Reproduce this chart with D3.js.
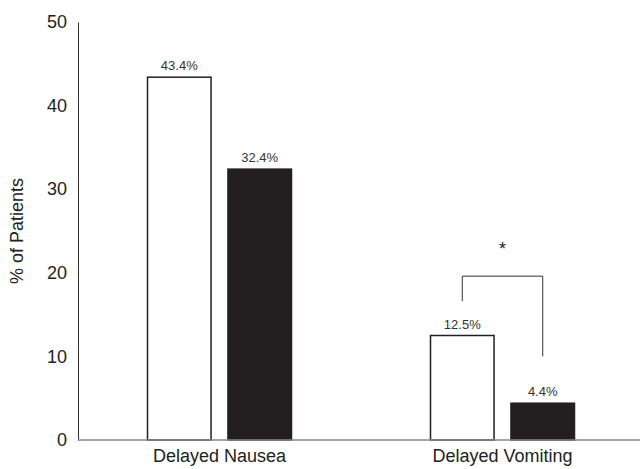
<!DOCTYPE html>
<html>
<head>
<meta charset="utf-8">
<script src="https://cdn.jsdelivr.net/npm/d3@7"></script>
<style>
  body { margin: 0; background: #fff; }
  svg { display: block; font-family: "Liberation Sans", Arial, sans-serif; }
</style>
</head>
<body>
<svg id="chart" width="640" height="469"></svg>
<script>
const categories = ['Delayed Nausea', 'Delayed Vomiting'];
const seriesNames = ['control', 'treatment'];
const controlValues = [43.4, 12.5];
const treatmentValues = [32.4, 4.4];
const yTicks = [0, 10, 20, 30, 40, 50];
// significance bracket on Delayed Vomiting: left leg end, top, right leg end
const bracketValues = [16.6, 19.6, 10.0];
const starValue = 23.3;

const width = 640;
const height = 469;
const margin = { left: 78, top: 22, bottom: 29 };

const svg = d3.select('#chart');

const y = d3.scaleLinear()
  .domain([0, 50])
  .range([height - margin.bottom, margin.top]);

const x0 = d3.scaleBand()
  .domain(categories)
  .range([margin.left, 644]);

const x1 = d3.scaleBand()
  .domain(seriesNames)
  .range([-72, 72])
  .paddingInner(0.21);

// y 轴
const yAxis = svg.append('g')
  .attr('transform', `translate(${margin.left},0)`)
  .call(d3.axisLeft(y).tickValues(yTicks).tickSize(0).tickPadding(11));
yAxis.select('.domain').attr('stroke', '#333').attr('stroke-width', 1);
yAxis.selectAll('text')
  .attr('font-size', 18)
  .attr('font-family', '"Liberation Sans", Arial, sans-serif')
  .attr('fill', '#222');

svg.append('text')
  .attr('transform', `translate(23,${(y(0) + y(50)) / 2}) rotate(-90)`)
  .attr('text-anchor', 'middle')
  .attr('font-size', 18)
  .attr('fill', '#222')
  .text('% of Patients');

// 柱图
const rows = categories.map((c, i) => ({
  name: c,
  values: [
    { key: 'control', value: controlValues[i] },
    { key: 'treatment', value: treatmentValues[i] }
  ]
}));

const group = svg.append('g').selectAll('g')
  .data(rows)
  .enter()
  .append('g')
  .attr('transform', d => `translate(${x0(d.name) + x0.bandwidth() / 2},0)`);

group.selectAll('rect')
  .data(d => d.values)
  .enter()
  .append('rect')
  .attr('x', d => x1(d.key))
  .attr('y', d => y(d.value))
  .attr('width', x1.bandwidth())
  .attr('height', d => y(0) - y(d.value))
  .attr('fill', d => d.key === 'control' ? '#fff' : '#231f20')
  .attr('stroke', '#231f20')
  .attr('stroke-width', 1.5);

group.selectAll('text.val')
  .data(d => d.values)
  .enter()
  .append('text')
  .attr('class', 'val')
  .attr('x', d => x1(d.key) + x1.bandwidth() / 2)
  .attr('y', d => y(d.value) - 7)
  .attr('text-anchor', 'middle')
  .attr('font-size', 13)
  .attr('fill', '#333')
  .text(d => d.value.toFixed(1) + '%');

// x 轴
const xAxis = svg.append('g')
  .attr('transform', `translate(0,${y(0)})`)
  .call(d3.axisBottom(x0).tickSize(0).tickPadding(9));
xAxis.select('.domain')
  .attr('d', `M${margin.left},0H${width}`)
  .attr('stroke', '#888')
  .attr('stroke-width', 1.5);
xAxis.selectAll('text')
  .attr('font-size', 18)
  .attr('font-family', '"Liberation Sans", Arial, sans-serif')
  .attr('fill', '#222');

// 显著性标记
const cx = x0(categories[1]) + x0.bandwidth() / 2;
const lx = cx + x1('control') + x1.bandwidth() / 2;
const rx = cx + x1('treatment') + x1.bandwidth() / 2;
svg.append('path')
  .attr('d', `M${lx},${y(bracketValues[0])}V${y(bracketValues[1])}H${rx}V${y(bracketValues[2])}`)
  .attr('fill', 'none')
  .attr('stroke', '#333')
  .attr('stroke-width', 1);

svg.append('text')
  .attr('x', cx)
  .attr('y', y(starValue) + 10)
  .attr('text-anchor', 'middle')
  .attr('font-size', 18)
  .attr('fill', '#222')
  .text('*');
</script>
</body>
</html>
